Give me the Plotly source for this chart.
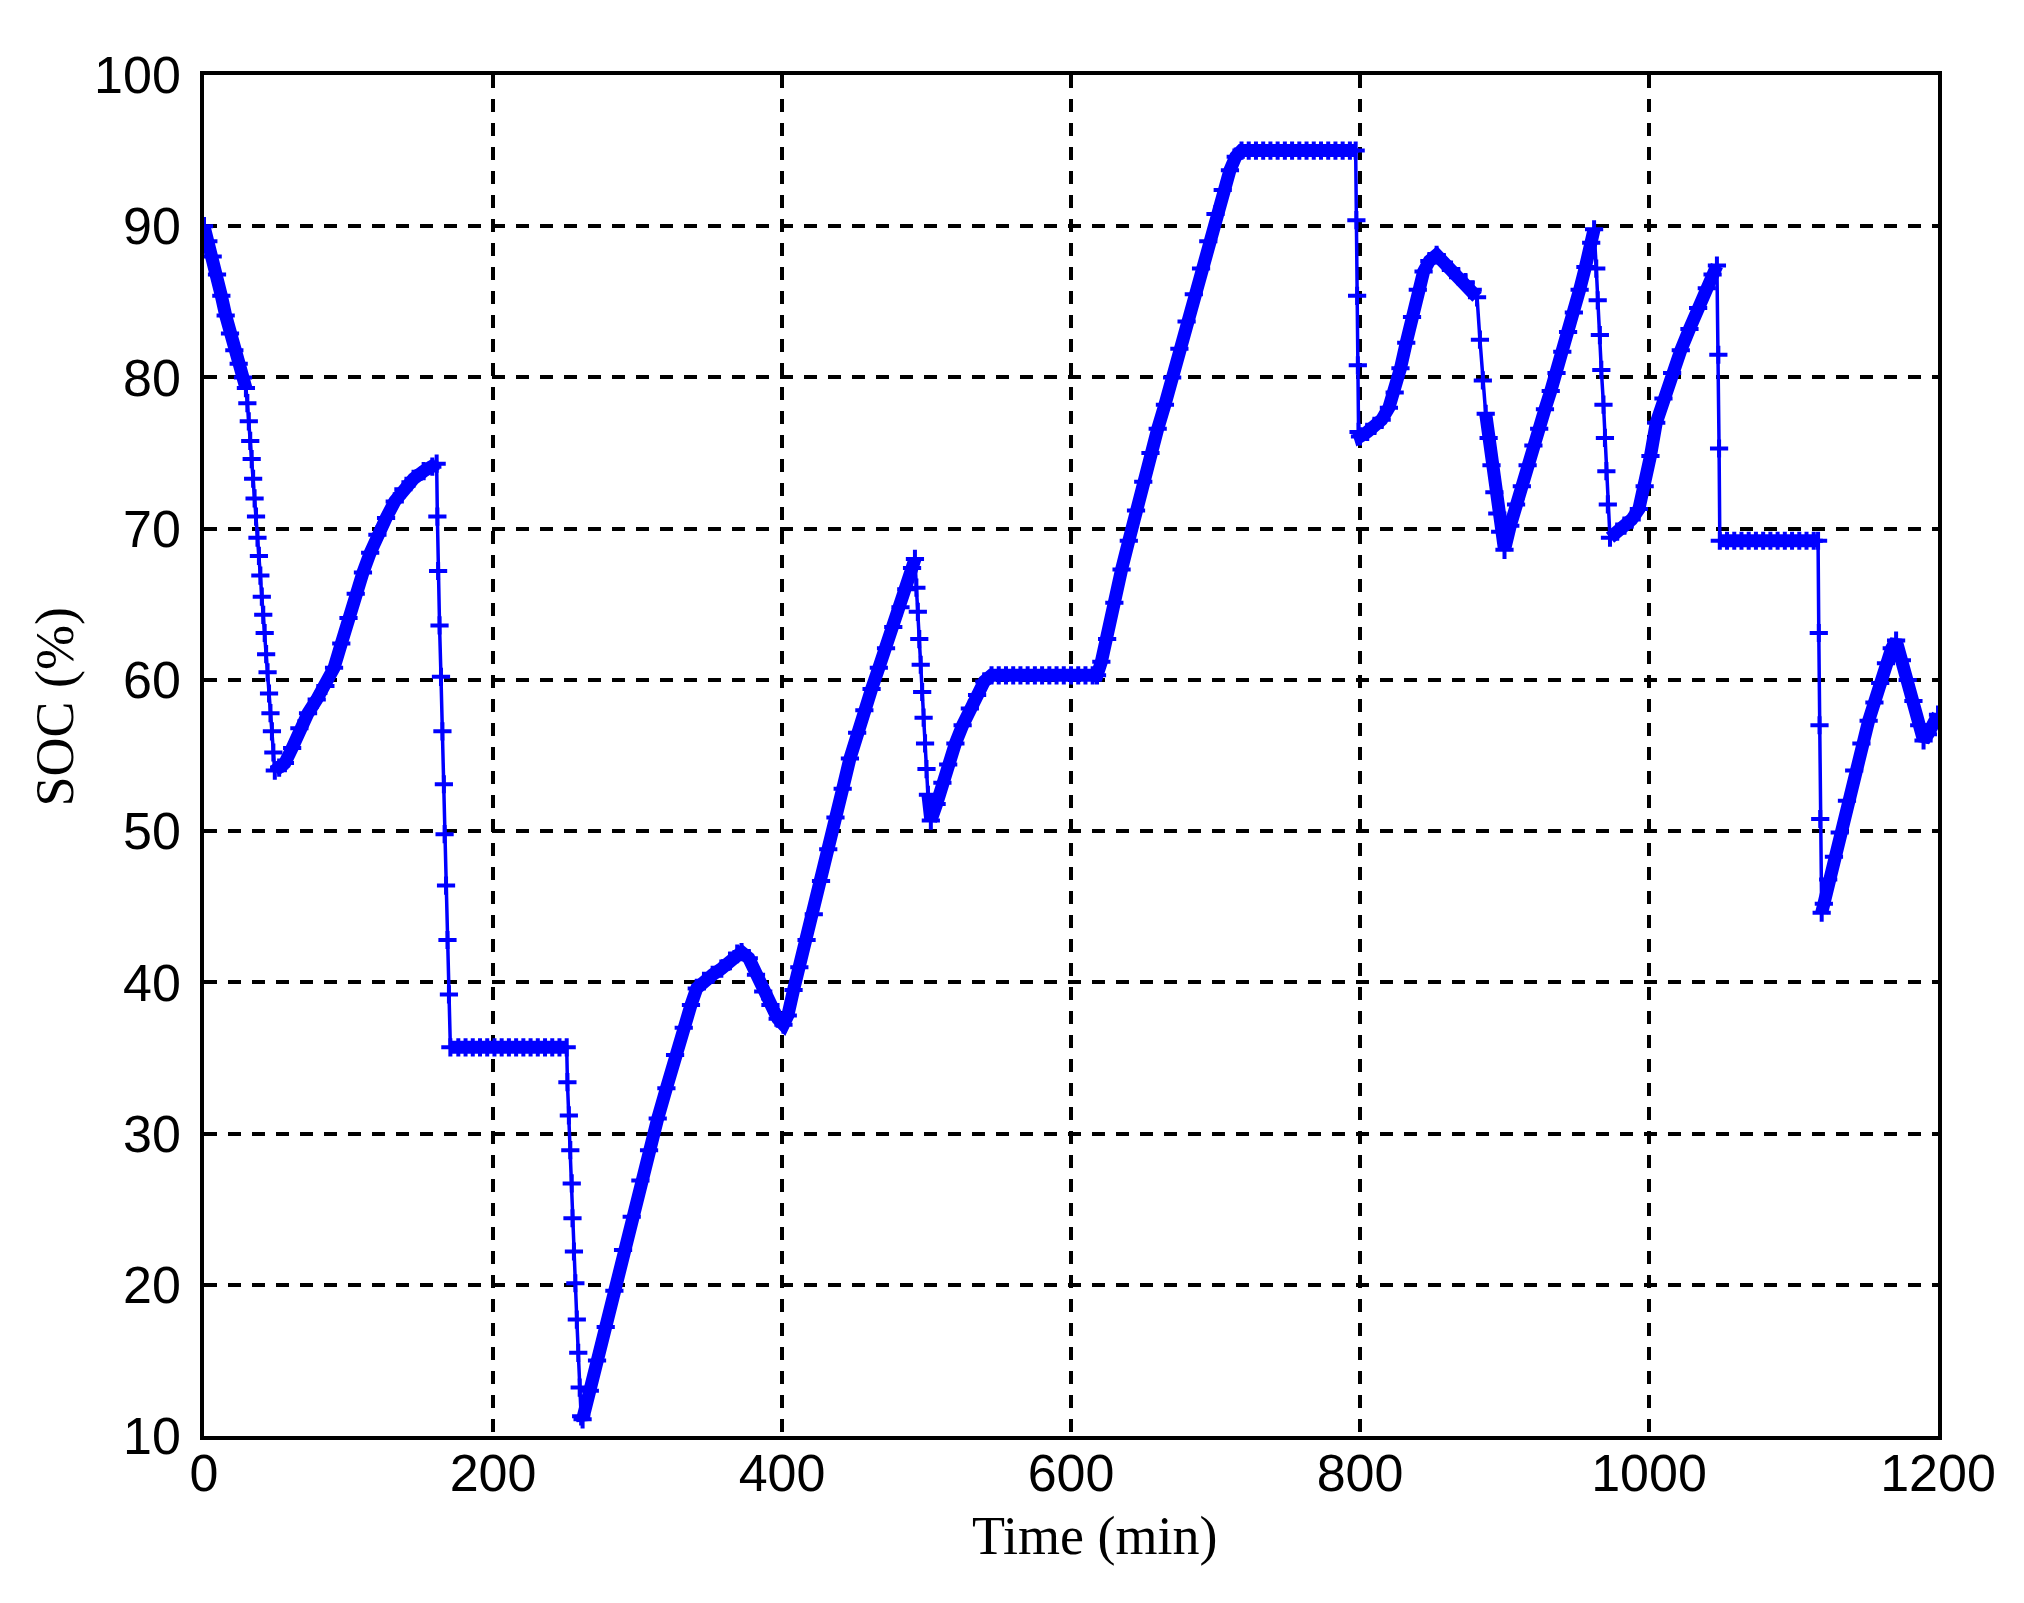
import plotly.graph_objects as go

# ---- data (time in minutes, state of charge in %) ----
time_min = [
    0, 3, 6, 9, 12, 15, 18, 21, 24, 27, 29,
    30, 31, 32, 33, 34, 35, 36, 37, 38, 39, 40, 41, 42, 43, 44, 45, 46, 47, 48, 49,
    52, 56, 61, 66, 72, 78, 84, 90, 95, 100, 105, 110, 115, 120, 126, 132, 138, 145, 152, 158, 161,
    161.5, 162, 163, 164, 165, 166, 166.5, 167.5, 168.5, 169.5, 170.5,
    176, 181, 186, 191, 196, 201, 206, 211, 216, 221, 226, 231, 236, 241, 246, 251,
    251.5, 252.5, 253.5, 254.5, 255, 256, 257, 258, 259, 260, 261, 262,
    267, 272, 278, 284, 290, 296, 302, 308, 314, 320, 326, 332, 337, 341, 346, 352, 358, 364, 369, 372,
    377, 382, 387, 392, 397, 401, 404, 408, 412, 417, 422, 427, 432, 437, 442, 447, 452, 457, 462, 467, 472, 477, 482, 486, 490, 492,
    493, 494, 495, 496, 497, 498, 499, 500, 501, 503,
    507, 511, 515, 520, 525, 530, 535, 540, 545,
    550, 555, 560, 565, 570, 575, 580, 585, 590, 595, 600, 605, 610, 615,
    618, 621, 625, 630, 635, 640, 645, 650, 655, 660, 665, 670, 675, 680, 685, 690, 695, 700, 705, 710, 714, 718,
    723, 728, 733, 738, 743, 748, 753, 758, 763, 768, 773, 778, 783, 788, 793, 797,
    797.5, 798, 798.5, 799, 800,
    805, 810, 815, 820, 824, 828, 832, 836, 840, 844, 848, 853, 858, 863, 868, 873, 878, 881,
    883, 885, 887, 889, 891, 893, 895, 897, 900,
    904, 908, 912, 916, 920, 924, 928, 932, 936, 940, 944, 948, 952, 956, 960, 962,
    963.5, 964.5, 966, 967, 968.5, 969.5, 970.5, 971.5, 973,
    978, 983, 988, 993, 997, 1001, 1005, 1010, 1016, 1022, 1028, 1034, 1040, 1044, 1047,
    1048, 1048.5, 1049,
    1054, 1059, 1064, 1069, 1074, 1079, 1084, 1089, 1094, 1099, 1104, 1109, 1114, 1117,
    1117.5, 1118, 1118.5, 1119.5,
    1121, 1124, 1128, 1132, 1137, 1142, 1147, 1152, 1156, 1160, 1164, 1168, 1171,
    1175, 1179, 1183, 1187, 1190, 1193, 1196, 1200,
]

soc_pct = [
    90.0, 89.0, 88.0, 86.8, 85.4, 84.1, 82.9, 81.8, 80.9, 80.0, 79.3,
    78.3, 77.1, 75.8, 74.6, 73.3, 72.0, 70.8, 69.4, 68.2, 66.9, 65.5, 64.3, 63.1, 61.7, 60.5, 59.1, 57.8, 56.6, 55.2, 54.0,
    54.2, 54.5, 55.5, 56.8, 57.8, 58.7, 59.6, 60.8, 62.4, 64.1, 65.7, 67.1, 68.4, 69.6, 70.7, 71.8, 72.6, 73.3, 73.8, 74.1, 74.3,
    70.8, 67.2, 63.6, 60.2, 56.6, 53.1, 49.8, 46.4, 42.8, 39.2, 35.7,
    35.7, 35.7, 35.7, 35.7, 35.7, 35.7, 35.7, 35.7, 35.7, 35.7, 35.7, 35.7, 35.7, 35.7, 35.7, 35.7,
    33.4, 31.2, 28.9, 26.7, 24.4, 22.2, 20.1, 17.7, 15.5, 13.2, 11.3, 11.1,
    13.0, 15.0, 17.2, 19.6, 22.3, 24.5, 26.9, 28.9, 31.0, 33.0, 35.2, 37.0, 38.5, 39.6, 40.1, 40.5, 40.9, 41.4, 41.9, 42.0,
    41.6, 40.5, 39.4, 38.5, 37.6, 37.2, 37.8, 39.5, 41.0, 42.8, 44.5, 46.7, 48.8, 50.9, 52.8, 54.8, 56.5, 58.0, 59.4, 60.8, 62.1, 63.5, 64.8, 66.0, 67.4, 68.0,
    66.1, 64.5, 62.7, 61.0, 59.2, 57.5, 55.8, 54.1, 52.4, 50.7,
    51.8, 53.2, 54.4, 55.8, 57.0, 58.1, 59.0, 59.9, 60.3,
    60.3, 60.3, 60.3, 60.3, 60.3, 60.3, 60.3, 60.3, 60.3, 60.3, 60.3, 60.3, 60.3, 60.3,
    60.3, 61.2, 62.7, 65.1, 67.3, 69.2, 71.2, 73.1, 75.0, 76.6, 78.2, 80.0, 81.9, 83.7, 85.5, 87.2, 89.0, 90.8, 92.4, 93.7, 94.6, 95.0,
    95.0, 95.0, 95.0, 95.0, 95.0, 95.0, 95.0, 95.0, 95.0, 95.0, 95.0, 95.0, 95.0, 95.0, 95.0, 95.0,
    90.4, 85.4, 80.8, 76.4, 76.1,
    76.4, 76.8, 77.2, 78.0, 79.0, 80.6, 82.3, 84.0, 85.8, 87.0, 87.7, 88.1, 87.6, 87.1, 86.7, 86.3, 85.8, 85.3,
    82.5, 79.8, 77.6, 76.0, 74.2, 72.4, 71.0, 69.8, 68.6,
    70.2, 71.6, 72.8, 74.2, 75.5, 76.6, 77.9, 79.1, 80.3, 81.7, 83.0, 84.3, 85.8, 87.3, 88.9, 89.8,
    87.2, 85.1, 82.8, 80.5, 78.2, 76.0, 73.8, 71.6, 69.4,
    69.8, 70.2, 70.6, 71.3, 72.8, 74.8, 77.0, 78.6, 80.3, 81.8, 83.2, 84.6, 85.9, 86.8, 87.4,
    81.5, 75.3, 69.2,
    69.2, 69.2, 69.2, 69.2, 69.2, 69.2, 69.2, 69.2, 69.2, 69.2, 69.2, 69.2, 69.2, 69.2,
    63.1, 57.0, 50.8, 44.6,
    45.2, 46.8, 48.3, 49.9, 52.0, 54.0, 55.8, 57.3, 58.5, 59.8, 61.1, 62.1, 62.6,
    61.3, 60.0, 58.6, 57.0, 56.0, 56.4, 57.0, 57.7,
]

x_ticks = [0, 200, 400, 600, 800, 1000, 1200]
y_ticks = [10, 20, 30, 40, 50, 60, 70, 80, 90, 100]

assert len(time_min) == len(soc_pct), (len(time_min), len(soc_pct))

BLUE = "#0000ff"
STEEP = 0.95  # %/min: steeper samples are drawn as thin line with visible markers

# dense-marker band (where samples are close together the '+' markers merge)
band_x, band_y = [], []
for i in range(len(time_min)):
    band_x.append(time_min[i])
    band_y.append(soc_pct[i])
    if i < len(time_min) - 1:
        dt = time_min[i + 1] - time_min[i]
        if abs(soc_pct[i + 1] - soc_pct[i]) / dt > STEEP:
            band_x.append(None)
            band_y.append(None)

fig = go.Figure()
fig.add_trace(go.Scatter(
    x=band_x, y=band_y, mode="lines",
    line=dict(color=BLUE, width=13),
    hoverinfo="skip", showlegend=False, connectgaps=False,
))
fig.add_trace(go.Scatter(
    x=time_min, y=soc_pct, mode="lines+markers",
    line=dict(color=BLUE, width=3.5),
    marker=dict(symbol="cross-thin", size=13, color=BLUE,
                line=dict(color=BLUE, width=4)),
    showlegend=False, name="SOC",
))

tick_font = dict(family="Liberation Sans, Arial, sans-serif", size=52, color="black")
title_font = dict(family="Liberation Serif, Times New Roman, serif", size=54, color="black")

axis_common = dict(
    showgrid=True, gridcolor="black", gridwidth=3.5, griddash="13px,11px",
    showline=True, linecolor="black", linewidth=3.5, mirror=True,
    zeroline=False, ticks="", tickfont=tick_font,
)

fig.update_xaxes(range=[0, 1200], tickvals=x_ticks, ticktext=[str(v) for v in x_ticks],
                 ticklabelstandoff=-11, **axis_common)
fig.update_yaxes(range=[10, 100], tickvals=y_ticks, ticktext=[str(v) for v in y_ticks],
                 ticklabelstandoff=9, **axis_common)

fig.add_annotation(text="Time (min)", xref="paper", yref="paper",
                   x=0.514, y=-0.0735, xanchor="center", yanchor="middle",
                   showarrow=False, font=title_font)
fig.add_annotation(text="SOC (%)", xref="paper", yref="paper",
                   x=-0.0862, y=0.5357, xanchor="center", yanchor="middle",
                   textangle=-90, showarrow=False, font=title_font)

# page body has an 8px default margin, so the figure is sized to fit the window
fig.update_layout(
    width=2016, height=1595,
    margin=dict(l=196, r=86, t=67, b=167, pad=0),
    paper_bgcolor="white", plot_bgcolor="white",
    showlegend=False,
)

fig.write_html("out.html")
